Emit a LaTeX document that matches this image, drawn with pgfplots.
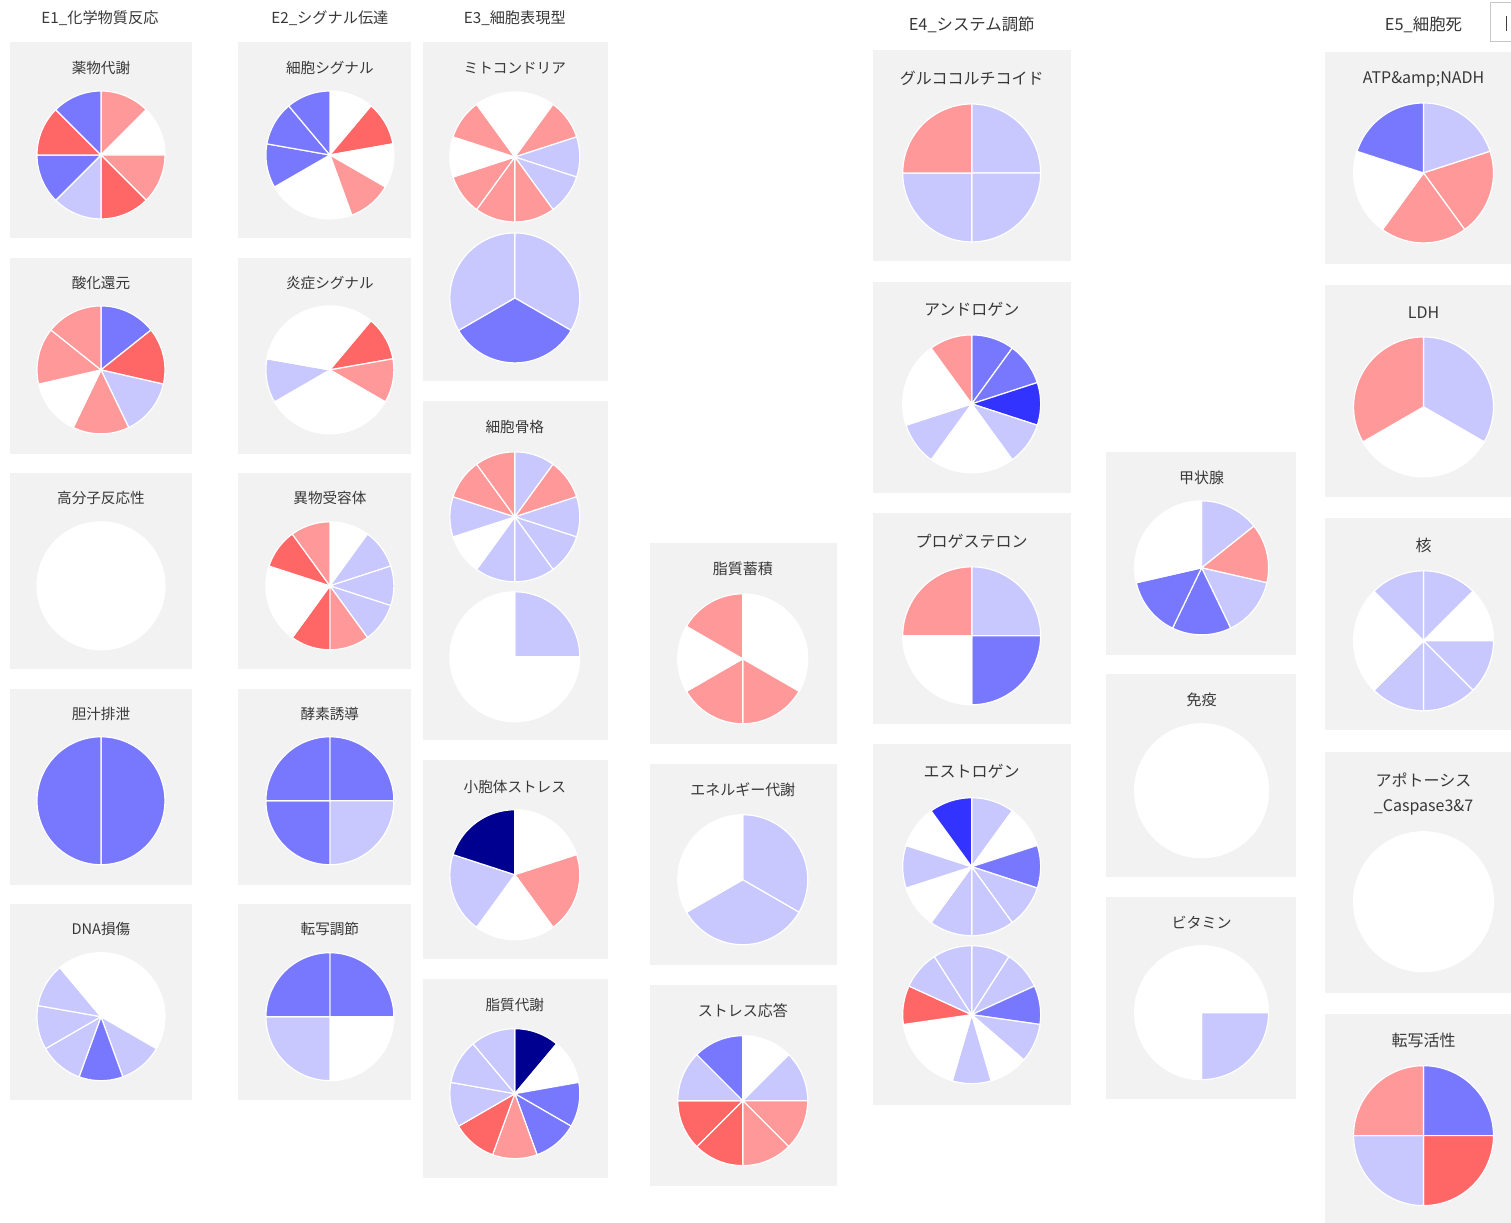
\documentclass[border=0pt]{standalone}
\usepackage{pgfplots}
\pgfplotsset{compat=1.18}
\usepackage{fontspec}
\setmainfont{Noto Sans CJK JP}
\definecolor{panelgray}{HTML}{F2F2F2}
\definecolor{titlegray}{HTML}{383838}
\definecolor{cp1}{HTML}{FF9999}
\definecolor{cp2}{HTML}{FF6666}
\definecolor{c0}{HTML}{FFFFFF}
\definecolor{cm1}{HTML}{C8C8FF}
\definecolor{cm2}{HTML}{7878FF}
\definecolor{cm3}{HTML}{3333FF}
\definecolor{cm4}{HTML}{000090}
% level -> colour name
\newcommand{\colname}[1]{\ifcase\numexpr#1+4\relax
  \def\cn{cm4}\or\def\cn{cm3}\or\def\cn{cm2}\or\def\cn{cm1}\or\def\cn{c0}\or\def\cn{cp1}\or\def\cn{cp2}\fi}
% \pie{cx}{cy}{r}{levels, clockwise from 12 o'clock, equal slices}
\newcommand{\pie}[4]{%
  \gdef\piecount{0}%
  \foreach \v in {#4} {\xdef\piecount{\the\numexpr\piecount+1\relax}}%
  \pgfmathsetmacro\step{360/\piecount}%
  \foreach \v [count=\i from 0] in {#4} {%
    \pgfmathsetmacro\aa{\i*\step}%
    \pgfmathsetmacro\bb{(\i+1)*\step}%
    \pgfmathtruncatemacro\ns{ceil(\step/3)+2}%
    \colname{\v}%
    \edef\tmp{\noexpand\addplot[fill=\cn, draw=white, line width=0.6pt, line join=round, domain=\aa:\bb, samples=\ns, variable=\noexpand\t]
      ({#1+#3*sin(\noexpand\t)},{#2-#3*cos(\noexpand\t)}) -- (axis cs:#1,#2) -- cycle;}%
    \tmp
  }%
}
\newcommand{\panel}[4]{\addplot[fill=panelgray, draw=none] coordinates {(#1,#2) (#3,#2) (#3,#4) (#1,#4)} -- cycle;}
\newcommand{\ttl}[4]{\node[font=\fontsize{#3}{#3}\selectfont, text=titlegray, inner sep=0pt] at (axis cs:#1,#2) {#4};}
\begin{document}
\begin{tikzpicture}
\begin{axis}[
  x=0.5pt, y=0.5pt, y dir=reverse,
  xmin=0, xmax=1511, ymin=0, ymax=1223,
  hide axis, clip=false, enlargelimits=false,
]
\addplot[fill=white, draw=none] coordinates {(0,0) (1511,0) (1511,1223) (0,1223)} -- cycle;
% ---------- panels ----------
\panel{10}{42}{192}{238}
\panel{10}{258}{192}{454}
\panel{10}{473}{192}{669}
\panel{10}{689}{192}{885}
\panel{10}{904}{192}{1100}
\panel{238}{42}{411}{238}
\panel{238}{258}{411}{454}
\panel{238}{473}{411}{669}
\panel{238}{689}{411}{885}
\panel{238}{904}{411}{1100}
\panel{423}{42}{608}{381}
\panel{423}{401}{608}{740}
\panel{423}{760}{608}{959}
\panel{423}{979}{608}{1178}
\panel{650}{543}{837}{744}
\panel{650}{764}{837}{965}
\panel{650}{985}{837}{1186}
\panel{873}{50}{1071}{261}
\panel{873}{282}{1071}{493}
\panel{873}{513}{1071}{724}
\panel{873}{744}{1071}{1105}
\panel{1106}{452}{1296}{655}
\panel{1106}{674}{1296}{877}
\panel{1106}{897}{1296}{1099}
\panel{1325}{52}{1511}{264}
\panel{1325}{285}{1511}{497}
\panel{1325}{518}{1511}{730}
\panel{1325}{752}{1511}{993}
\panel{1325}{1014}{1511}{1223}
% ---------- E1 ----------
\pie{101}{155}{64}{1,0,1,2,-1,-2,2,-2}
\pie{101}{370}{64}{-2,2,-1,1,0,1,1}
\pie{101}{586}{64}{0}
\pie{101}{801}{64}{-2,-2}
\pie{101}{1017}{64}{0,0,0,-1,-2,-1,-1,-1,0}
% ---------- E2 ----------
\pie{330}{155}{64}{0,2,0,1,0,0,-2,-2,-2}
\pie{330}{370}{64}{0,2,1,0,0,0,-1,0,0}
\pie{330}{586}{64}{0,-1,-1,-1,1,2,0,0,2,1}
\pie{330}{801}{64}{-2,-1,-2,-2}
\pie{330}{1017}{64}{-2,0,-1,-2}
% ---------- E3 ----------
\pie{515}{157}{65}{0,1,-1,-1,1,1,1,0,1,0}
\pie{515}{298}{65}{-1,-2,-1}
\pie{515}{517}{65}{-1,1,-1,-1,-1,-1,0,-1,1,1}
\pie{515}{657}{65}{-1,0,0,0}
\pie{515}{875}{65}{0,1,0,-1,-4}
\pie{515}{1094}{65}{-4,0,-2,-2,1,2,-1,-1,-1}
% ---------- column 4 ----------
\pie{743}{659}{65}{0,0,1,1,0,1}
\pie{743}{880}{65}{-1,-1,0}
\pie{743}{1101}{65}{0,-1,1,1,2,2,-1,-2}
% ---------- E4 ----------
\pie{972}{173}{69}{-1,-1,-1,1}
\pie{972}{404}{69}{-2,-2,-3,-1,0,0,-1,0,0,1}
\pie{972}{636}{69}{-1,-2,0,1}
\pie{972}{867}{69}{-1,0,-2,-1,-1,-1,0,-1,0,-3}
\pie{972}{1015}{69}{-1,-1,-2,-1,0,-1,0,0,2,-1,-1}
% ---------- column 6 ----------
\pie{1202}{568}{67}{-1,1,-1,-2,-2,0,0}
\pie{1202}{791}{67}{0}
\pie{1202}{1013}{67}{0,-1,0,0}
% ---------- E5 ----------
\pie{1424}{173}{70}{-1,1,1,0,-2}
\pie{1424}{407}{70}{-1,0,1}
\pie{1424}{641}{70}{-1,0,-1,-1,-1,0,0,-1}
\pie{1424}{902}{70}{0}
\pie{1424}{1136}{70}{-2,2,-1,1}
% ---------- headers ----------
\ttl{100}{18}{7.6}{E1\_化学物質反応}
\ttl{330}{18}{7.6}{E2\_シグナル伝達}
\ttl{515}{18}{7.6}{E3\_細胞表現型}
\ttl{972}{25}{8.2}{E4\_システム調節}
\ttl{1424}{25}{8.2}{E5\_細胞死}
% ---------- titles ----------
\ttl{101}{68}{7.3}{薬物代謝}
\ttl{101}{283}{7.3}{酸化還元}
\ttl{101}{498}{7.3}{高分子反応性}
\ttl{101}{714}{7.3}{胆汁排泄}
\ttl{101}{929}{7.3}{DNA損傷}
\ttl{330}{68}{7.3}{細胞シグナル}
\ttl{330}{283}{7.3}{炎症シグナル}
\ttl{330}{498}{7.3}{異物受容体}
\ttl{330}{714}{7.3}{酵素誘導}
\ttl{330}{929}{7.3}{転写調節}
\ttl{515}{68}{7.3}{ミトコンドリア}
\ttl{515}{427}{7.3}{細胞骨格}
\ttl{515}{787}{7.3}{小胞体ストレス}
\ttl{515}{1005}{7.3}{脂質代謝}
\ttl{743}{569}{7.5}{脂質蓄積}
\ttl{743}{790}{7.5}{エネルギー代謝}
\ttl{743}{1011}{7.5}{ストレス応答}
\ttl{972}{78}{8}{グルココルチコイド}
\ttl{972}{309}{8}{アンドロゲン}
\ttl{972}{541}{8}{プロゲステロン}
\ttl{972}{772}{8}{エストロゲン}
\ttl{1202}{478}{7.5}{甲状腺}
\ttl{1202}{700}{7.5}{免疫}
\ttl{1202}{923}{7.5}{ビタミン}
\ttl{1424}{79}{8}{ATP\&amp;NADH}
\ttl{1424}{313}{8}{LDH}
\ttl{1424}{546}{8}{核}
\ttl{1424}{780}{8}{アポトーシス}
\ttl{1424}{808}{8}{\_Caspase3\&7}
\ttl{1424}{1041}{8}{転写活性}
% partial legend box at top right
\draw[gray!45, line width=0.5pt] (axis cs:1511,2) -- (axis cs:1491,2) -- (axis cs:1491,42) -- (axis cs:1511,42);
\draw[black!75, line width=0.6pt] (axis cs:1507,16) -- (axis cs:1507,31);
\end{axis}
\end{tikzpicture}
\end{document}
